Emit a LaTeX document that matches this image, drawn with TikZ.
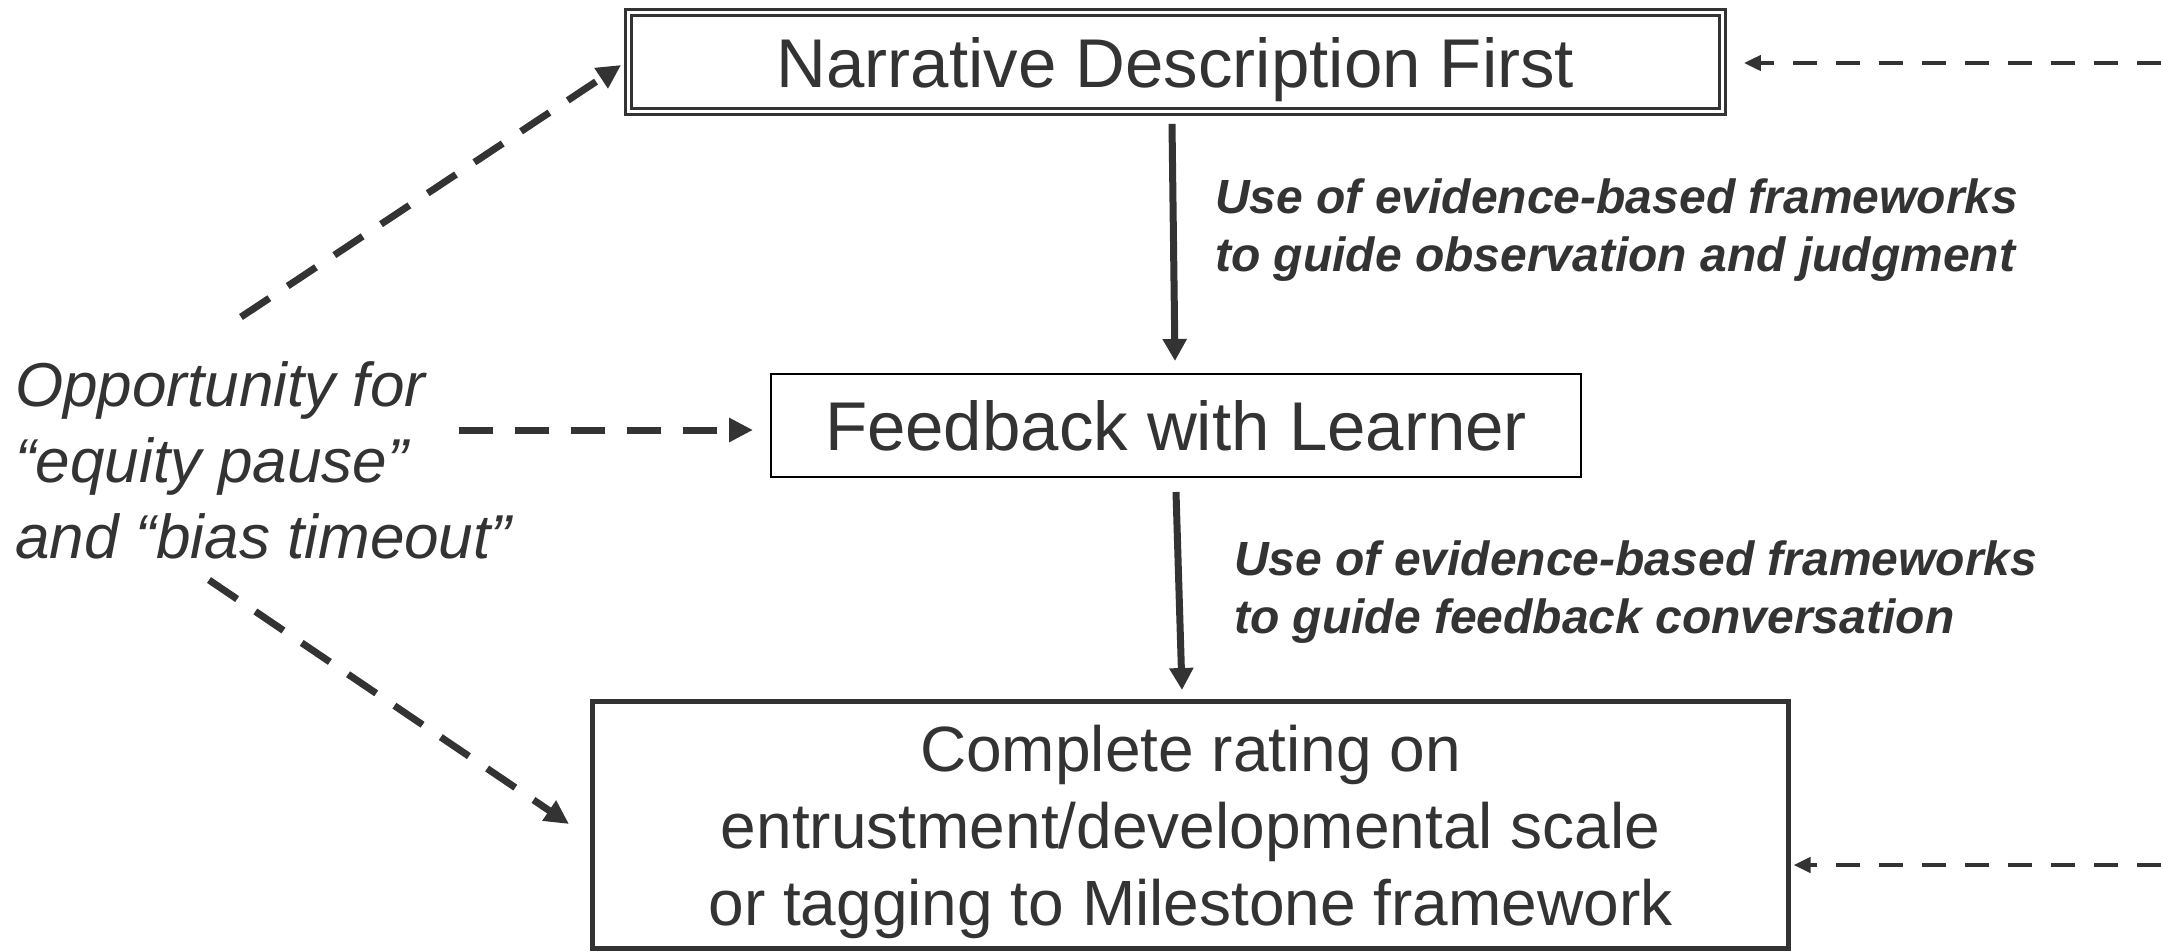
\documentclass[tikz,border=0pt]{standalone}
\usepackage{fontspec}
\setmainfont{Liberation Sans}
\usetikzlibrary{arrows.meta,calc}
\definecolor{ink}{HTML}{333333}
\begin{document}
\begin{tikzpicture}[x=1pt,y=-1pt,
  boxfont/.style={font=\fontsize{69}{83}\selectfont},
  stagebox/.style={text=ink, inner sep=0pt, align=center},
  sidenote/.style={text=ink, inner sep=0pt, align=left,
    font=\fontsize{48}{58}\selectfont\bfseries\itshape},
  flow/.style={draw=ink, line width=7pt, -{Triangle[length=22pt,width=23pt]}},
  pauselink/.style={draw=ink, line width=7pt, dash pattern=on 34pt off 22pt,
    -{Triangle[length=24pt,width=23pt]}},
  returnlink/.style={draw=ink, line width=4.5pt, dash pattern=on 24pt off 19pt,
    -{Triangle[length=17pt,width=15pt]}}]
  \useasboundingbox (0,0) rectangle (2161,951);
  \fill[white] (0,0) rectangle (2161,951);

  % the three stages
  \node[stagebox, boxfont, text depth=0pt, draw=ink, double, double distance=3pt,
        line width=2.8pt, minimum width=1094pt, minimum height=99pt] (top) at (1175.5,62)
        {Narrative Description First};
  \node[stagebox, boxfont, draw=black, line width=2pt,
        minimum width=810pt, minimum height=103pt] (fb) at (1176,425.5)
        {Feedback with Learner};
  \node[stagebox, font=\fontsize{64}{77}\selectfont, text depth=0pt, draw=ink, line width=5pt,
        minimum width=1196pt, minimum height=247pt] (bot) at (1190.5,825)
        {Complete rating on\\entrustment/developmental scale\\or tagging to Milestone framework};

  % left note
  \node[text=ink, inner sep=0pt, align=left, anchor=west,
        font=\fontsize{62}{76}\selectfont\itshape] (opp) at (15,460)
        {Opportunity for\\“equity pause”\\and “bias timeout”};

  % side notes on the main flow
  \node[sidenote, anchor=west] (n1) at (1215,230)
        {Use of evidence-based frameworks\\to guide observation and judgment};
  \node[sidenote, anchor=west] (n2) at (1234,592)
        {Use of evidence-based frameworks\\to guide feedback conversation};

  % main flow
  \draw[flow] ($(top.south)+(-3.5,11)$) -- ($(fb.north)+(-1,-12)$);
  \draw[flow] ($(fb.south)+(0,14)$) -- ($(bot.north)+(-8.5,-9)$);

  % pause links from the left note
  \coordinate (u1) at (241,317);
  \coordinate (u2) at (459,430);
  \coordinate (u3) at (209,580);
  \draw[pauselink] (u1) -- ($(top.west)+(-6,3)$);
  \draw[pauselink] (u2) -- ($(fb.west)+(-17,4.5)$);
  \draw[pauselink] (u3) -- ($(bot.west)+(-21,-1)$);

  % return links entering from the right
  \coordinate (r1) at (2161,63);
  \coordinate (r2) at (2161,865);
  \draw[returnlink] (r1) -- ($(top.east)+(20,1)$);
  \draw[returnlink] (r2) -- ($(bot.east)+(2.5,40)$);
\end{tikzpicture}
\end{document}
